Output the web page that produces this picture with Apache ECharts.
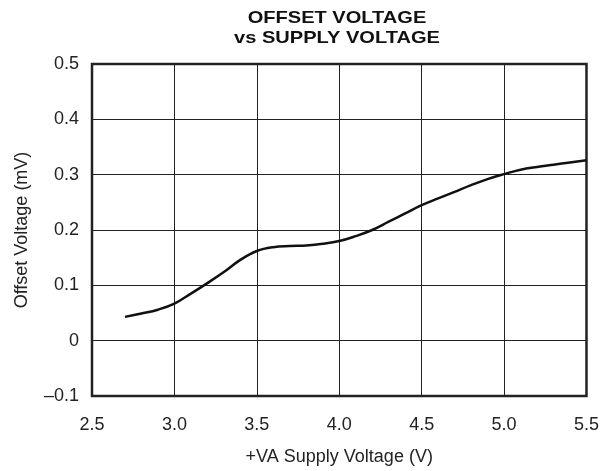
<!DOCTYPE html>
<html><head><meta charset="utf-8">
<script src="https://cdn.jsdelivr.net/npm/echarts@6/dist/echarts.min.js"></script>
<style>html,body{margin:0;padding:0;background:#fff;overflow:hidden}#c{width:602px;height:471px}</style>
</head><body><div id="c"></div>
<script>
var supplyV = [2.7, 2.8, 2.9, 3.0, 3.1, 3.2, 3.3, 3.4, 3.5, 3.6, 3.7, 3.8, 3.9, 4.0, 4.1, 4.2, 4.3, 4.4, 4.5, 4.6, 4.7, 4.8, 4.9, 5.0, 5.1, 5.2, 5.3, 5.4, 5.5];
var offsetMV = [0.043, 0.049, 0.056, 0.067, 0.085, 0.104, 0.124, 0.146, 0.162, 0.169, 0.171, 0.172, 0.175, 0.180, 0.189, 0.200, 0.215, 0.230, 0.245, 0.257, 0.269, 0.281, 0.292, 0.301, 0.309, 0.314, 0.318, 0.322, 0.326];
var titleLines = ['OFFSET VOLTAGE', 'vs SUPPLY VOLTAGE'];
var xName = '+VA Supply Voltage (V)';
var yName = 'Offset Voltage (mV)';

var font = 'Liberation Sans, Arial, Helvetica, sans-serif';
var chart = echarts.init(document.getElementById('c'), null, {renderer: 'canvas', width: 602, height: 471});
chart.setOption({
  animation: false,
  backgroundColor: '#fff',
  graphic: titleLines.map(function(t, i){
    return {
      type: 'text', x: 337, y: 18 + i * 20, scaleX: 1.18,
      style: {text: t, fill: '#111', font: 'bold 17px ' + font, textAlign: 'center', textVerticalAlign: 'middle'}
    };
  }),
  grid: {left: 92, right: 15, top: 64, bottom: 71, show: true, borderColor: '#222', borderWidth: 2.5, backgroundColor: 'transparent'},
  xAxis: {
    type: 'value', min: 2.5, max: 5.5, interval: 0.5,
    name: xName, nameLocation: 'middle', nameGap: 52,
    nameTextStyle: {fontFamily: font, fontSize: 18, color: '#222'},
    axisLine: {show: false}, axisTick: {show: false},
    axisLabel: {fontFamily: font, fontSize: 18, color: '#222', margin: 20, formatter: function(v){return v.toFixed(1);}},
    splitLine: {show: true, lineStyle: {color: '#222', width: 1}}
  },
  yAxis: {
    type: 'value', min: -0.1, max: 0.5, interval: 0.1,
    name: yName, nameLocation: 'middle', nameGap: 61,
    nameTextStyle: {fontFamily: font, fontSize: 18, color: '#222'},
    axisLine: {show: false}, axisTick: {show: false},
    axisLabel: {fontFamily: font, fontSize: 18, color: '#222', margin: 13, padding: [6, 0, 0, 0], formatter: function(v){
      var r = Math.round(v*10)/10;
      if (r === 0) return '0';
      if (r < 0) return '\u2013' + Math.abs(r).toFixed(1);
      return r.toFixed(1);
    }},
    splitLine: {show: true, lineStyle: {color: '#222', width: 1}}
  },
  series: [{
    type: 'line', smooth: 0.4, showSymbol: false,
    data: supplyV.map(function(x, i){return [x, offsetMV[i]];}),
    lineStyle: {color: '#111', width: 2.5}
  }]
});
</script></body></html>
